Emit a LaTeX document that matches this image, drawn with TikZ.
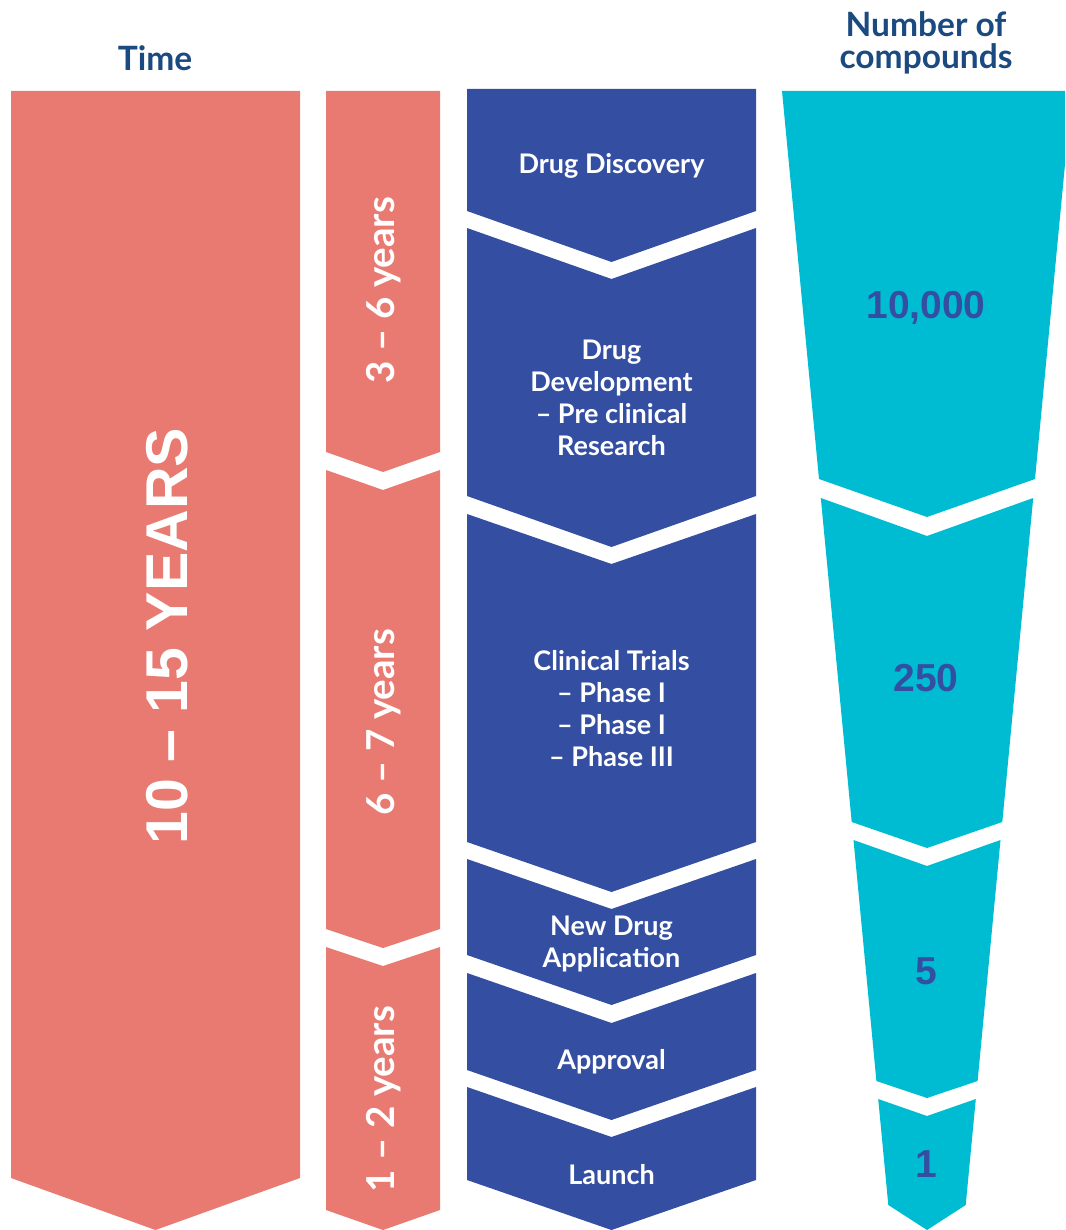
\documentclass[tikz,border=0pt]{standalone}
\usepackage{fontspec}
\setmainfont{Lato}
\newfontfamily\helv{Liberation Sans}
\definecolor{pinkc}{HTML}{E87A72}
\definecolor{bluec}{HTML}{344FA1}
\definecolor{tealc}{HTML}{00BCD3}
\definecolor{headc}{HTML}{1B4A80}
\begin{document}
\begin{tikzpicture}[x=1pt,y=-1pt,
  pinkseg/.style={fill=pinkc,draw=none},
  blueseg/.style={fill=bluec,draw=none},
  tealseg/.style={fill=tealc,draw=none},
  steptext/.style={text=white,font=\fontsize{27}{32}\selectfont\bfseries,align=center,inner sep=0pt},
  yeartext/.style={text=white,font=\fontsize{38.5}{40}\selectfont\bfseries,rotate=90,inner sep=0pt},
  numtext/.style={text=bluec,font=\helv\fontsize{39}{40}\selectfont\bfseries,inner sep=0pt},
  headtext/.style={text=headc,font=\fontsize{33.5}{32}\selectfont\bfseries,align=center,inner sep=0pt}]
\useasboundingbox (0,0) rectangle (1065,1230);
\clip (0,0) rectangle (1065,1230);

% big pink column
\fill[pinkseg] (11,91) -- (300,91) -- (300,1178) -- (155.5,1230) -- (11,1178) -- cycle;

% middle pink column
\fill[pinkseg] (326,91) -- (440,91) -- (440,452) -- (383,472) -- (326,452) -- cycle;
\fill[pinkseg] (326,470) -- (383,490) -- (440,470) -- (440,929) -- (383,948) -- (326,929) -- cycle;
\fill[pinkseg] (326,947) -- (383,966) -- (440,947) -- (440,1210) -- (383,1230) -- (326,1210) -- cycle;

% blue column
\fill[blueseg] (467,89) -- (756,89) -- (756,211) -- (611.5,262) -- (467,211) -- cycle;
\fill[blueseg] (467,228) -- (611.5,279) -- (756,228) -- (756,496) -- (611.5,547) -- (467,496) -- cycle;
\fill[blueseg] (467,514) -- (611.5,564) -- (756,514) -- (756,842) -- (611.5,892) -- (467,842) -- cycle;
\fill[blueseg] (467,859) -- (611.5,909) -- (756,859) -- (756,955) -- (611.5,1005) -- (467,955) -- cycle;
\fill[blueseg] (467,973) -- (611.5,1023) -- (756,973) -- (756,1070) -- (611.5,1120) -- (467,1070) -- cycle;
\fill[blueseg] (467,1087) -- (611.5,1137) -- (756,1087) -- (756,1180) -- (611.5,1230) -- (467,1180) -- cycle;

% teal column
\fill[tealseg] (782,91) -- (1072,91) -- (1035,479) -- (927,517) -- (819,479) -- cycle;
\fill[tealseg] (820.8,498) -- (927,536) -- (1033.2,498) -- (1002.3,822) -- (927,848) -- (851.7,822) -- cycle;
\fill[tealseg] (853.5,840) -- (927,866) -- (1000.5,840) -- (977.6,1081) -- (927,1098) -- (876.4,1081) -- cycle;
\fill[tealseg] (878.2,1099) -- (927,1116) -- (975.8,1099) -- (965.7,1205) -- (927,1230) -- (888.3,1205) -- cycle;

% headers
\node[headtext] (hTime) at (155,58) {Time};
\node[headtext] (hNum) at (926,43) {Number of\\compounds};

% time labels
\node[text=white,font=\helv\fontsize{59}{60}\selectfont\bfseries,rotate=90,inner sep=0pt] (tTotal) at (167,636) {10 – 15 YEARS};
\node[yeartext] (t1) at (384,290) {3 – 6 years};
\node[yeartext] (t2) at (384,722) {6 – 7 years};
\node[yeartext] (t3) at (384,1099) {1 – 2 years};

% step labels
\node[steptext] (s1) at (611.5,166) {Drug Discovery};
\node[steptext] (s2) at (611.5,398) {Drug\\Development\\– Pre clinical\\Research};
\node[steptext] (s3) at (611.5,709) {Clinical Trials\\– Phase I\\– Phase I\\– Phase III};
\node[steptext] (s4) at (611.5,944) {New Drug\\Application};
\node[steptext] (s5) at (611.5,1062) {Approval};
\node[steptext] (s6) at (611.5,1175) {Launch};

% numbers
\node[numtext] (n1) at (926,308) {10,000};
\node[numtext] (n2) at (926,678) {250};
\node[numtext] (n3) at (926,971) {5};
\node[numtext] (n4) at (926,1164) {1};
\end{tikzpicture}
\end{document}
